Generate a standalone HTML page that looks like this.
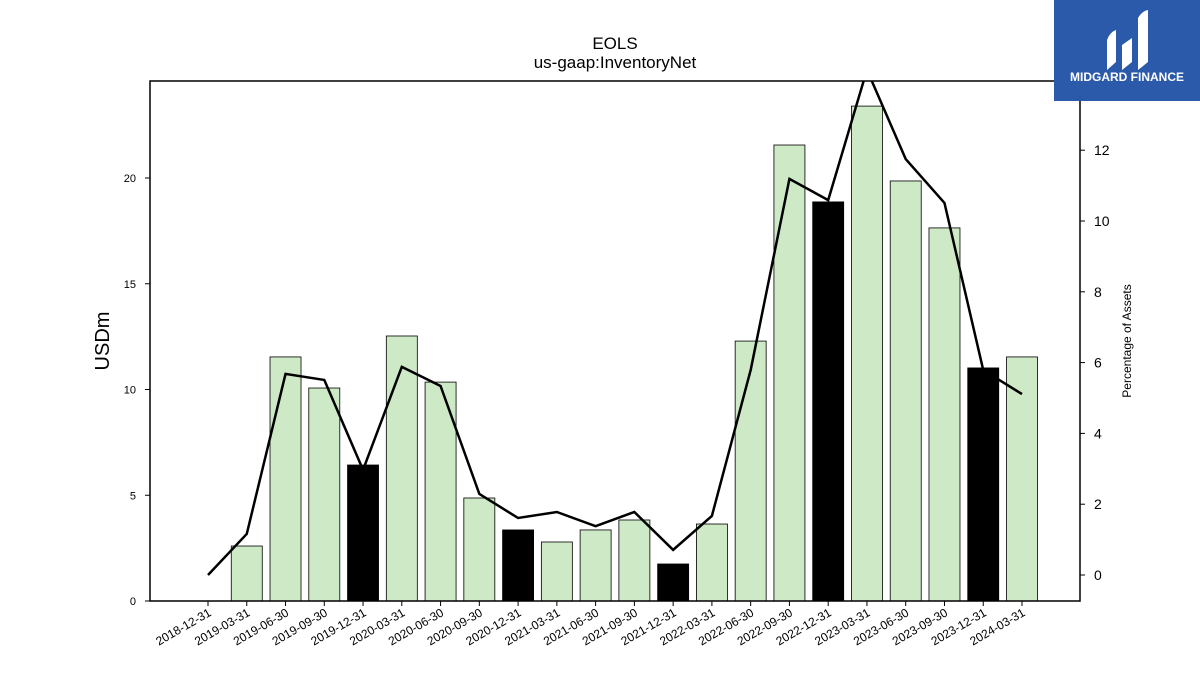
<!DOCTYPE html>
<html><head><meta charset="utf-8"><style>
body{margin:0;background:#fff;font-family:"Liberation Sans","DejaVu Sans",sans-serif}
</style></head><body>
<svg id="c" width="1200" height="675" xmlns="http://www.w3.org/2000/svg">
<defs><clipPath id="pc"><rect x="150" y="81" width="930" height="520"/></clipPath></defs>
<text x="615" y="49" text-anchor="middle" font-size="17">EOLS</text>
<text x="615" y="68" text-anchor="middle" font-size="17">us-gaap:InventoryNet</text>
<g id="bars"></g>
<g id="line" clip-path="url(#pc)"></g>
<rect x="150" y="81" width="930" height="520" fill="none" stroke="#000" stroke-width="1.5"/>
<g id="axes" font-size="11"></g>
<text transform="translate(109,341) rotate(-90)" text-anchor="middle" font-size="20">USDm</text>
<text transform="translate(1131,341) rotate(-90)" text-anchor="middle" font-size="12">Percentage of Assets</text>
<g>
<rect x="1054" y="0" width="146" height="101" fill="#2b5aab"/>
<path d="M1107 70 L1107 40 Q1110 32 1116 30 L1116 62 Z M1122 70 L1122 45 L1132 38 L1132 62 Z M1138 70 L1138 18 Q1142 11 1148 10 L1148 62 Z" fill="#fff"/>
<text x="1127" y="81" text-anchor="middle" font-size="12" font-weight="bold" fill="#fff">MIDGARD FINANCE</text>
</g>
</svg>
<script>
const categories=["2018-12-31","2019-03-31","2019-06-30","2019-09-30","2019-12-31","2020-03-31","2020-06-30","2020-09-30","2020-12-31","2021-03-31","2021-06-30","2021-09-30","2021-12-31","2022-03-31","2022-06-30","2022-09-30","2022-12-31","2023-03-31","2023-06-30","2023-09-30","2023-12-31","2024-03-31"];
const inventory=[0,2.6,11.54,10.07,6.43,12.53,10.35,4.87,3.36,2.79,3.36,3.83,1.75,3.64,12.29,21.56,18.87,23.4,19.86,17.64,11.02,11.54];
const annual=[false,false,false,false,true,false,false,false,true,false,false,false,true,false,false,false,true,false,false,false,true,false];
const pctAssets=[0,1.16,5.68,5.51,2.97,5.88,5.34,2.29,1.61,1.78,1.38,1.78,0.71,1.67,5.79,11.19,10.59,14.27,11.75,10.51,5.79,5.11];
const leftTicks=[0,5,10,15,20];
const rightTicks=[0,2,4,6,8,10,12];
const NS="http://www.w3.org/2000/svg";
const x=i=>208+i*(1022-208)/(categories.length-1);
const yL=v=>601-v*21.15;
const yR=v=>575-v*35.4;
function mk(t,a,p){const e=document.createElementNS(NS,t);for(const k in a)e.setAttribute(k,a[k]);p.appendChild(e);return e;}
const bars=document.getElementById('bars'),line=document.getElementById('line'),axes=document.getElementById('axes');
inventory.forEach((v,i)=>{if(v<=0)return;
 const r=mk('rect',{x:x(i)-15.5,y:yL(v),width:31,height:601-yL(v),fill:annual[i]?'#000':'#cde9c6',stroke:'#000','stroke-width':0.8},bars);
 
 });
const pl=mk('polyline',{points:pctAssets.map((v,i)=>x(i)+','+yR(v)).join(' '),fill:'none',stroke:'#000','stroke-width':2.5},line);


leftTicks.forEach(v=>{const y=yL(v);mk('line',{x1:145,x2:150,y1:y,y2:y,stroke:'#000'},axes);
 const t=mk('text',{x:136,y:y+4,'text-anchor':'end'},axes);t.textContent=v;
 
 });
rightTicks.forEach(v=>{const y=yR(v);mk('line',{x1:1080,x2:1085,y1:y,y2:y,stroke:'#000'},axes);
 const t=mk('text',{x:1094,y:y+5,'font-size':14},axes);t.textContent=v;
 
 });
categories.forEach((c,i)=>{const X=x(i);mk('line',{x1:X,x2:X,y1:601,y2:606,stroke:'#000'},axes);
 const t=mk('text',{transform:`translate(${X+4},${615}) rotate(-30)`,'text-anchor':'end','font-size':12},axes);t.textContent=c;
 
 });
</script>
</body></html>
